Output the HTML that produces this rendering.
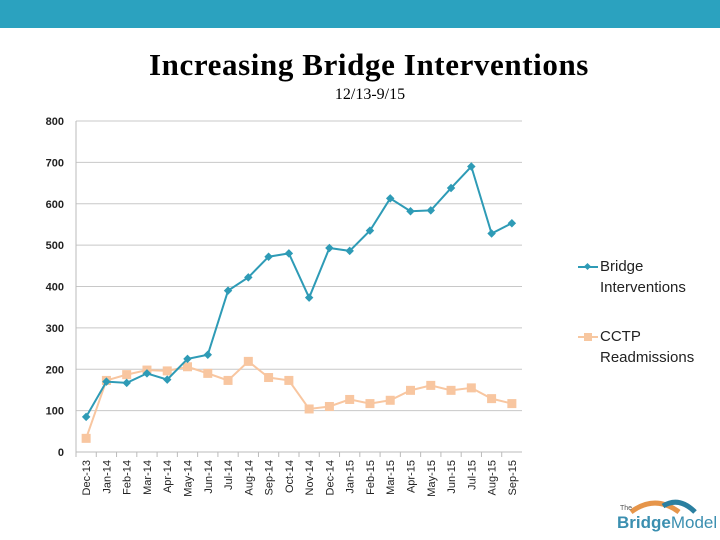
<!DOCTYPE html>
<html><head><meta charset="utf-8"><style>
body{margin:0;width:720px;height:540px;background:#fff;overflow:hidden;position:relative;font-family:"Liberation Sans",sans-serif}
</style></head><body>
<div style="position:absolute;left:0;top:0;width:720px;height:28px;background:#2ba2bf"></div>
<div style="position:absolute;left:0;width:738px;top:47px;text-align:center;font-family:'Liberation Serif',serif;font-weight:bold;font-size:31px;letter-spacing:0.6px">Increasing Bridge Interventions</div>
<div style="position:absolute;left:0;width:740px;top:86px;text-align:center;font-family:'Liberation Serif',serif;font-size:16px">12/13-9/15</div>
<svg id="chart" width="720" height="540" style="position:absolute;left:0;top:0"></svg>
<div style="position:absolute;left:578px;top:256px;font-size:15px;line-height:21px;color:#222">
 <div style="position:relative;padding-left:22px">
  <span style="position:absolute;left:0;top:10px;width:20px;height:2px;background:#2e9bb6"></span>
  <span style="position:absolute;left:7px;top:8px;width:5px;height:5px;background:#2e9bb6;transform:rotate(45deg)"></span>
  Bridge<br>Interventions</div>
 <div style="position:relative;padding-left:22px;margin-top:28px">
  <span style="position:absolute;left:0;top:10px;width:20px;height:2px;background:#f7c7a0"></span>
  <span style="position:absolute;left:6px;top:7px;width:8px;height:8px;background:#f7c7a0"></span>
  CCTP<br>Readmissions</div>
</div>
<div style="position:absolute;left:617px;top:498px;width:100px;height:40px">
 <svg width="100" height="40" style="position:absolute;left:0;top:0">
  <path d="M14 14 Q38 -4 62 14" stroke="#e6954a" stroke-width="5" fill="none"/>
  <path d="M46 8 Q62 -2 78 14" stroke="#2a7fa0" stroke-width="5" fill="none"/>
 </svg>
 <span style="position:absolute;left:3px;top:7px;font-size:7px;color:#555">The</span>
 <span style="position:absolute;left:0;top:15px;font-size:17px;font-weight:bold;color:#3b8fb0">Bridge<span style="font-weight:normal;color:#3b8fb0">Model</span></span>
</div>
<script>
const categories=["Dec-13","Jan-14","Feb-14","Mar-14","Apr-14","May-14","Jun-14","Jul-14","Aug-14","Sep-14","Oct-14","Nov-14","Dec-14","Jan-15","Feb-15","Mar-15","Apr-15","May-15","Jun-15","Jul-15","Aug-15","Sep-15"];
const bridgeValues=[85,170,167,190,175,225,235,390,422,472,480,373,493,486,535,613,582,584,638,690,528,553];
const cctpValues=[33,173,187,198,196,206,190,173,219,180,173,104,110,127,117,125,149,161,149,155,129,117];
const yTicks=[0,100,200,300,400,500,600,700,800];
const svg=document.getElementById('chart');
const NS='http://www.w3.org/2000/svg';
const X0=76,X1=522,Y0=452,Y1=121,YMAX=800;
const step=(X1-X0)/categories.length;
function xs(i){return X0+step*(i+0.5);}
function ys(v){return Y0-(v/YMAX)*(Y0-Y1);}
function mk(t,a){const e=document.createElementNS(NS,t);for(const k in a)e.setAttribute(k,a[k]);svg.appendChild(e);return e;}
yTicks.forEach(v=>{
 const g=mk('line',{x1:X0,x2:X1,y1:ys(v),y2:ys(v),stroke:v===0?'#bbb':'#c8c8c8','stroke-width':1});
 
 
 const t=mk('text',{x:64,y:ys(v)+4,'text-anchor':'end','font-size':11,'font-weight':'bold','font-family':'Liberation Sans, sans-serif',fill:'#222'});
 t.textContent=v;
 
 
});
const ax=mk('line',{x1:X0,x2:X0,y1:Y1,y2:Y0,stroke:'#bbb'});


categories.forEach((c,i)=>{
 const tk=mk('line',{x1:X0+step*i,x2:X0+step*i,y1:Y0,y2:Y0+5,stroke:'#bbb'});
 
 
 const t=mk('text',{x:0,y:0,'text-anchor':'end','font-size':11,'font-family':'Liberation Sans, sans-serif',fill:'#222',transform:`translate(${xs(i)+4},${Y0+8}) rotate(-90)`});
 t.textContent=c;
 
 
});
function series(vals,color,name,marker){
 const p=mk('polyline',{points:vals.map((v,i)=>xs(i)+','+ys(v)).join(' '),fill:'none',stroke:color,'stroke-width':2});
 
 
 vals.forEach((v,i)=>{
  let m;
  if(marker==='diamond'){m=mk('rect',{x:xs(i)-3,y:ys(v)-3,width:6,height:6,fill:color,transform:`rotate(45 ${xs(i)} ${ys(v)})`});}
  else{m=mk('rect',{x:xs(i)-4.5,y:ys(v)-4.5,width:9,height:9,fill:color});}
  
  
 });
}
series(cctpValues,'#f8c6a0','cctp','square');
series(bridgeValues,'#2e9bb6','bridge','diamond');
</script>
</body></html>
